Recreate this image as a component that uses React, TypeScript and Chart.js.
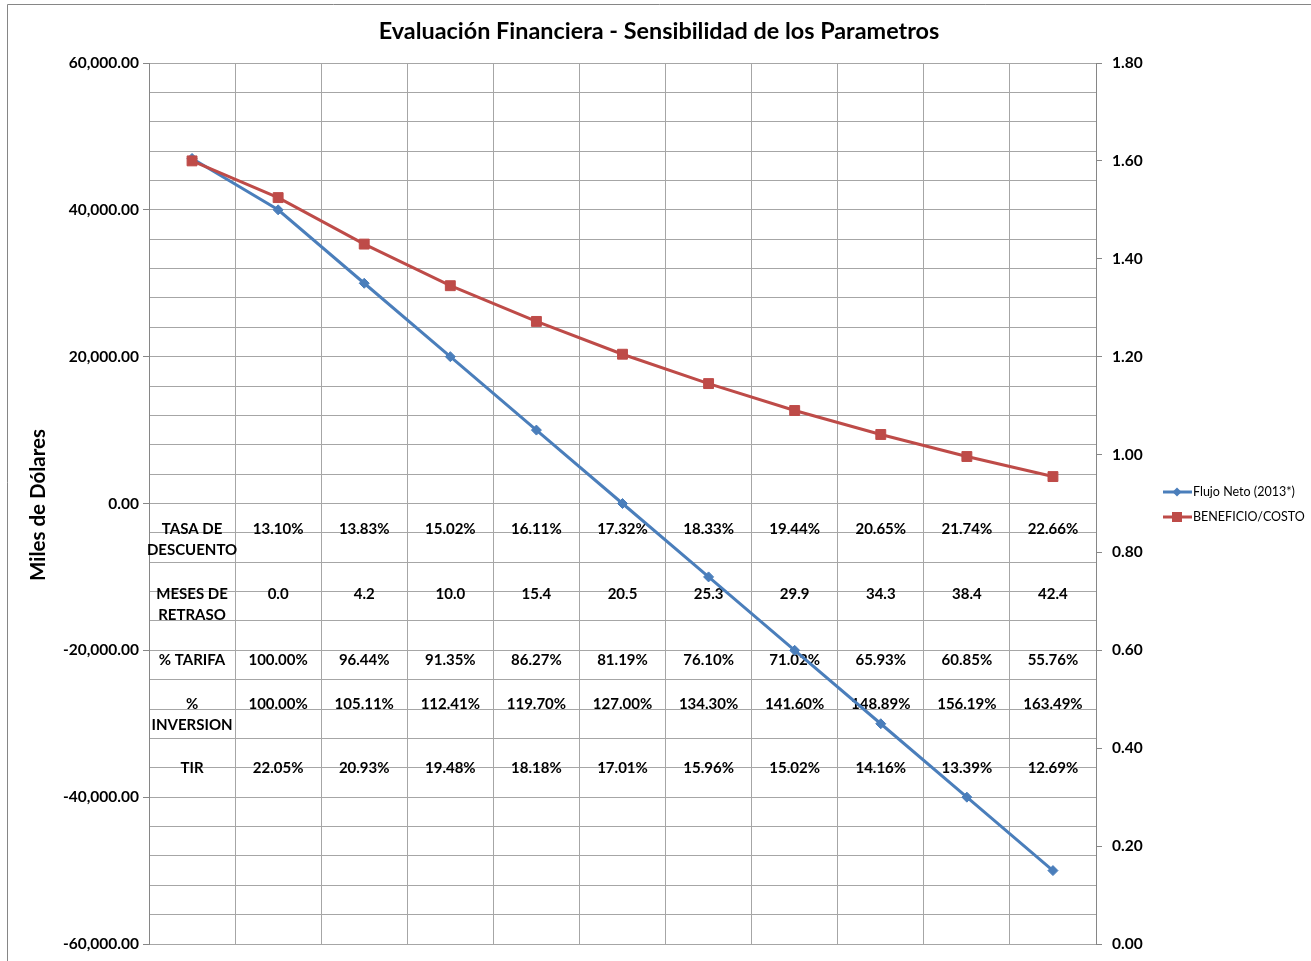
import React, { useEffect, useRef } from 'react';
import { Chart, registerables } from 'chart.js';

Chart.register(...registerables);

// ---------------- data ----------------
const TITLE = 'Evaluación Financiera - Sensibilidad de los Parametros';
const Y_TITLE = 'Miles de Dólares';

const categories = ['1', '2', '3', '4', '5', '6', '7', '8', '9', '10', '11'];

const flujoNetoLabel = 'Flujo Neto (2013*)';
const flujoNeto = [47000, 40000, 30000, 20000, 10000, 0, -10000, -20000, -30000, -40000, -50000];

const beneficioCostoLabel = 'BENEFICIO/COSTO';
const beneficioCosto = [1.6, 1.525, 1.43, 1.345, 1.272, 1.205, 1.145, 1.09, 1.041, 0.996, 0.955];

const rowLabels = [
  ['TASA DE', 'DESCUENTO'],
  ['MESES DE', 'RETRASO'],
  ['% TARIFA'],
  ['%', 'INVERSION'],
  ['TIR'],
];
const tasaDescuento = ['13.10%', '13.83%', '15.02%', '16.11%', '17.32%', '18.33%', '19.44%', '20.65%', '21.74%', '22.66%'];
const mesesRetraso = ['0.0', '4.2', '10.0', '15.4', '20.5', '25.3', '29.9', '34.3', '38.4', '42.4'];
const tarifa = ['100.00%', '96.44%', '91.35%', '86.27%', '81.19%', '76.10%', '71.02%', '65.93%', '60.85%', '55.76%'];
const inversion = ['100.00%', '105.11%', '112.41%', '119.70%', '127.00%', '134.30%', '141.60%', '148.89%', '156.19%', '163.49%'];
const tir = ['22.05%', '20.93%', '19.48%', '18.18%', '17.01%', '15.96%', '15.02%', '14.16%', '13.39%', '12.69%'];
const tableRows = [tasaDescuento, mesesRetraso, tarifa, inversion, tir];

const leftMin = -60000;
const leftMax = 60000;
const leftStep = 4000;
const leftMajor = 20000;
const rightMin = 0;
const rightMax = 1.8;
const rightStep = 0.2;

// ---------------- layout / style ----------------
const W = 1311;
const H = 961;
const FONT = 'Lato, "Open Sans", "DejaVu Sans", sans-serif';
const BLUE = '#4A7EBB';
const RED = '#BE4B48';
const GRID = '#a6a6a6';
const AXIS = '#868686';
const rowAnchors = [-3500, -12400, -21300, -27300, -36000]; // left-axis values where each table row sits
const ROW_LINE = 21;

const fmtLeft = (v: number) =>
  v.toLocaleString('en-US', { minimumFractionDigits: 2, maximumFractionDigits: 2 });

const decorPlugin = {
  id: 'decor',
  beforeDraw(chart: any) {
    const ctx = chart.ctx;
    ctx.save();
    ctx.fillStyle = '#ffffff';
    ctx.fillRect(0, 0, chart.width, chart.height);
    ctx.strokeStyle = AXIS;
    ctx.lineWidth = 1;
    ctx.beginPath();
    ctx.moveTo(7.5, chart.height);
    ctx.lineTo(7.5, 4.5);
    ctx.lineTo(chart.width, 4.5);
    ctx.stroke();

    ctx.fillStyle = '#000';
    ctx.textAlign = 'center';
    ctx.textBaseline = 'middle';
    ctx.font = `bold 23.4px ${FONT}`;
    ctx.fillText(TITLE, 659, 31);

    ctx.translate(38, 505);
    ctx.rotate(-Math.PI / 2);
    ctx.font = `bold 20.5px ${FONT}`;
    ctx.fillText(Y_TITLE, 0, 0);
    ctx.restore();
  },
  beforeDatasetsDraw(chart: any) {
    const ctx = chart.ctx;
    const xs = chart.scales.x;
    const ys = chart.scales.y;
    ctx.save();
    ctx.fillStyle = '#000';
    ctx.textAlign = 'center';
    ctx.textBaseline = 'middle';
    ctx.font = `bold 15px ${FONT}`;
    rowLabels.forEach((lines, r) => {
      const y0 = ys.getPixelForValue(rowAnchors[r]);
      const x0 = xs.getPixelForValue(0);
      lines.forEach((t, i) => ctx.fillText(t, x0, y0 + i * ROW_LINE));
      tableRows[r].forEach((v, c) => {
        ctx.fillText(v, xs.getPixelForValue(c + 1), y0);
      });
    });
    ctx.restore();
  },
  afterDraw(chart: any) {
    const ctx = chart.ctx;
    ctx.save();
    const ys = [492, 517];
    chart.data.datasets.forEach((d: any, i: number) => {
      const y = ys[i];
      ctx.strokeStyle = d.borderColor;
      ctx.lineWidth = 3;
      ctx.beginPath();
      ctx.moveTo(1163, y);
      ctx.lineTo(1192, y);
      ctx.stroke();
      ctx.fillStyle = d.pointBackgroundColor;
      ctx.beginPath();
      if (d.pointStyle === 'rectRot') {
        ctx.moveTo(1177, y - 4.5);
        ctx.lineTo(1181.5, y);
        ctx.lineTo(1177, y + 4.5);
        ctx.lineTo(1172.5, y);
        ctx.closePath();
      } else {
        ctx.rect(1172, y - 5, 10, 10);
      }
      ctx.fill();
      ctx.fillStyle = '#000';
      ctx.font = `12.5px ${FONT}`;
      ctx.textAlign = 'left';
      ctx.textBaseline = 'middle';
      ctx.fillText(d.label, 1193, y);
    });
    ctx.restore();
  },
};

export default function App() {
  const ref = useRef<HTMLCanvasElement | null>(null);
  useEffect(() => {
    if (!ref.current) return;
    const chart = new Chart(ref.current, {
      type: 'line',
      data: {
        labels: categories,
        datasets: [
          {
            label: flujoNetoLabel,
            data: flujoNeto,
            yAxisID: 'y',
            borderColor: BLUE,
            backgroundColor: BLUE,
            pointBackgroundColor: BLUE,
            pointBorderColor: BLUE,
            pointStyle: 'rectRot',
            pointRadius: 5,
            borderWidth: 3,
            pointBorderWidth: 1,
            order: 2,
            tension: 0,
          },
          {
            label: beneficioCostoLabel,
            data: beneficioCosto,
            yAxisID: 'y1',
            borderColor: RED,
            backgroundColor: RED,
            pointBackgroundColor: RED,
            pointBorderColor: RED,
            pointStyle: 'rect',
            pointRadius: 7,
            borderWidth: 3,
            pointBorderWidth: 1,
            order: 1,
            tension: 0,
          },
        ],
      },
      options: {
        animation: false,
        responsive: false,
        devicePixelRatio: 1,
        layout: { padding: { top: 63, bottom: 17, left: 0, right: 0 } },
        plugins: {
          legend: { display: false },
          title: { display: false },
          tooltip: { enabled: false },
        },
        scales: {
          x: {
            type: 'category',
            offset: true,
            grid: { offset: true, color: GRID, drawTicks: false, lineWidth: 1 },
            border: { display: false },
            ticks: { display: false },
            afterFit(s: any) {
              s.height = 0;
            },
          },
          y: {
            position: 'left',
            min: leftMin,
            max: leftMax,
            ticks: {
              stepSize: leftStep,
              autoSkip: false,
              color: '#000',
              padding: 4,
              font: { family: FONT, size: 15.5, weight: 'bold' },
              callback: (v: any) => (Math.abs(v % leftMajor) < 1e-6 ? fmtLeft(v) : ''),
            },
            grid: {
              color: GRID,
              tickLength: 6,
              tickColor: (c: any) =>
                c.tick && Math.abs(c.tick.value % leftMajor) < 1e-6 ? AXIS : 'rgba(0,0,0,0)',
            },
            border: { color: AXIS },
            afterFit(s: any) {
              s.width = 149;
              s.paddingTop = 0;
              s.paddingBottom = 0;
            },
          },
          y1: {
            position: 'right',
            min: rightMin,
            max: rightMax,
            ticks: {
              stepSize: rightStep,
              autoSkip: false,
              color: '#000',
              padding: 10,
              font: { family: FONT, size: 15.5, weight: 'bold' },
              callback: (v: any) => Number(v).toFixed(2),
            },
            grid: { drawOnChartArea: false, tickLength: 6, color: AXIS },
            border: { color: AXIS },
            afterFit(s: any) {
              s.width = 215;
              s.paddingTop = 0;
              s.paddingBottom = 0;
            },
          },
        },
      },
      plugins: [decorPlugin],
    } as any);
    return () => chart.destroy();
  }, []);
  return (
    <div style={{ position: 'absolute', left: 0, top: 0, width: W, height: H, background: '#fff' }}>
      <canvas ref={ref} width={W} height={H} style={{ display: 'block', width: W, height: H }} />
    </div>
  );
}
